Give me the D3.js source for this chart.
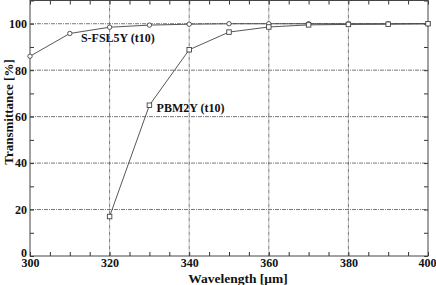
<!DOCTYPE html>
<html>
<head>
<meta charset="utf-8">
<script src="https://cdn.jsdelivr.net/npm/d3@7"></script>
<style>
  body { margin: 0; background: #fff; }
  text { font-family: "Liberation Serif", "Times New Roman", serif; font-weight: bold; fill: #111; }
  .grid line { stroke: #555; stroke-width: 0.8; stroke-dasharray: 4,1,1,1; }
  .frame { fill: none; stroke: #444; stroke-width: 1; }
  .series { fill: none; stroke: #444; stroke-width: 0.9; }
  .mark { fill: #fff; stroke: #444; stroke-width: 0.9; }
</style>
</head>
<body>
<svg width="436" height="285"></svg>
<script>
const WAVE_FSL = [300, 310, 320, 330, 340, 350, 360, 370, 380, 390, 400];
const T_FSL = [86, 95.8, 98.5, 99.4, 99.8, 100, 100, 100, 100, 100, 100];
const WAVE_PBM = [320, 330, 340, 350, 360, 370, 380, 390, 400];
const T_PBM = [17, 64.9, 88.8, 96.4, 98.6, 99.5, 99.7, 99.8, 100];
const X_TICKS = [300, 320, 340, 360, 380, 400];
const Y_TICKS = [0, 20, 40, 60, 80, 100];

const svg = d3.select("svg");
const margin = {top: 0.5, right: 8, bottom: 29, left: 30},
  width = 436 - margin.left - margin.right,
  height = 285 - margin.top - margin.bottom,
  g = svg.append("g").attr("transform", "translate(" + margin.left + "," + margin.top + ")");

const x = d3.scaleLinear().domain([300, 400]).range([0, width]);
const y = d3.scaleLinear().domain([0, 110]).range([height, 0]);

// grid
g.append("g").attr("class", "grid")
  .selectAll("line").data(X_TICKS.slice(1, -1)).join("line")
  .attr("x1", d => x(d)).attr("x2", d => x(d))
  .attr("y1", 0).attr("y2", height);
g.append("g").attr("class", "grid")
  .selectAll("line").data(Y_TICKS.slice(1)).join("line")
  .attr("x1", 0).attr("x2", width)
  .attr("y1", d => y(d)).attr("y2", d => y(d));

// axes with inward ticks
const xb = g.append("g").attr("transform", "translate(0," + height + ")")
  .call(d3.axisBottom(x).tickValues(d3.range(300, 401, 5)).tickSize(-4).tickPadding(3)
    .tickFormat(d => X_TICKS.includes(d) ? d : ""));
const xt = g.append("g")
  .call(d3.axisTop(x).tickValues(d3.range(300, 401, 5)).tickSize(-4).tickFormat(""));
const yl = g.append("g")
  .call(d3.axisLeft(y).tickValues(d3.range(0, 111, 10)).tickSize(-4).tickPadding(3)
    .tickFormat(d => Y_TICKS.includes(d) ? d : ""));
const yr = g.append("g").attr("transform", "translate(" + width + ",0)")
  .call(d3.axisRight(y).tickValues(d3.range(0, 111, 10)).tickSize(-4).tickFormat(""));
[xb, xt, yl, yr].forEach(a => {
  a.select(".domain").remove();
  a.selectAll(".tick line").attr("stroke", "#333");
  a.selectAll("text").attr("font-size", 12).attr("font-family", null).attr("fill", null);
});
xb.selectAll("text").attr("dy", "0.7em");
xb.selectAll(".tick").filter(d => d === 400).select("text").attr("text-anchor", "end").attr("dx", 8);
yl.selectAll(".tick").filter(d => d === 0).select("text").attr("dy", "0em");

g.append("rect").attr("class", "frame")
  .attr("width", width).attr("height", height);

// series
const fsl = WAVE_FSL.map((w, i) => ({w: w, t: T_FSL[i]}));
const pbm = WAVE_PBM.map((w, i) => ({w: w, t: T_PBM[i]}));
const line = d3.line().x(d => x(d.w)).y(d => y(d.t));

g.append("path").datum(fsl).attr("class", "series").attr("d", line);
g.append("path").datum(pbm).attr("class", "series").attr("d", line);

g.selectAll(".circ").data(fsl).join("circle")
  .attr("class", "mark").attr("r", 2.2)
  .attr("cx", d => x(d.w)).attr("cy", d => y(d.t));
g.selectAll(".sq").data(pbm).join("rect")
  .attr("class", "mark").attr("width", 4.5).attr("height", 4.5)
  .attr("x", d => x(d.w) - 2.25).attr("y", d => y(d.t) - 2.25);

// labels
g.append("text").attr("x", x(312.8)).attr("y", y(92)).attr("font-size", 12).text("S-FSL5Y (t10)");
g.append("text").attr("x", x(331.8)).attr("y", y(62)).attr("font-size", 12).text("PBM2Y (t10)");

svg.append("text").attr("x", 238).attr("y", 283).attr("text-anchor", "middle")
  .attr("font-size", 13.5).text("Wavelength [\u03bcm]");
svg.append("text").attr("transform", "translate(13,112) rotate(-90)")
  .attr("text-anchor", "middle").attr("font-size", 13).text("Transmittance [%]");
</script>
</body>
</html>
